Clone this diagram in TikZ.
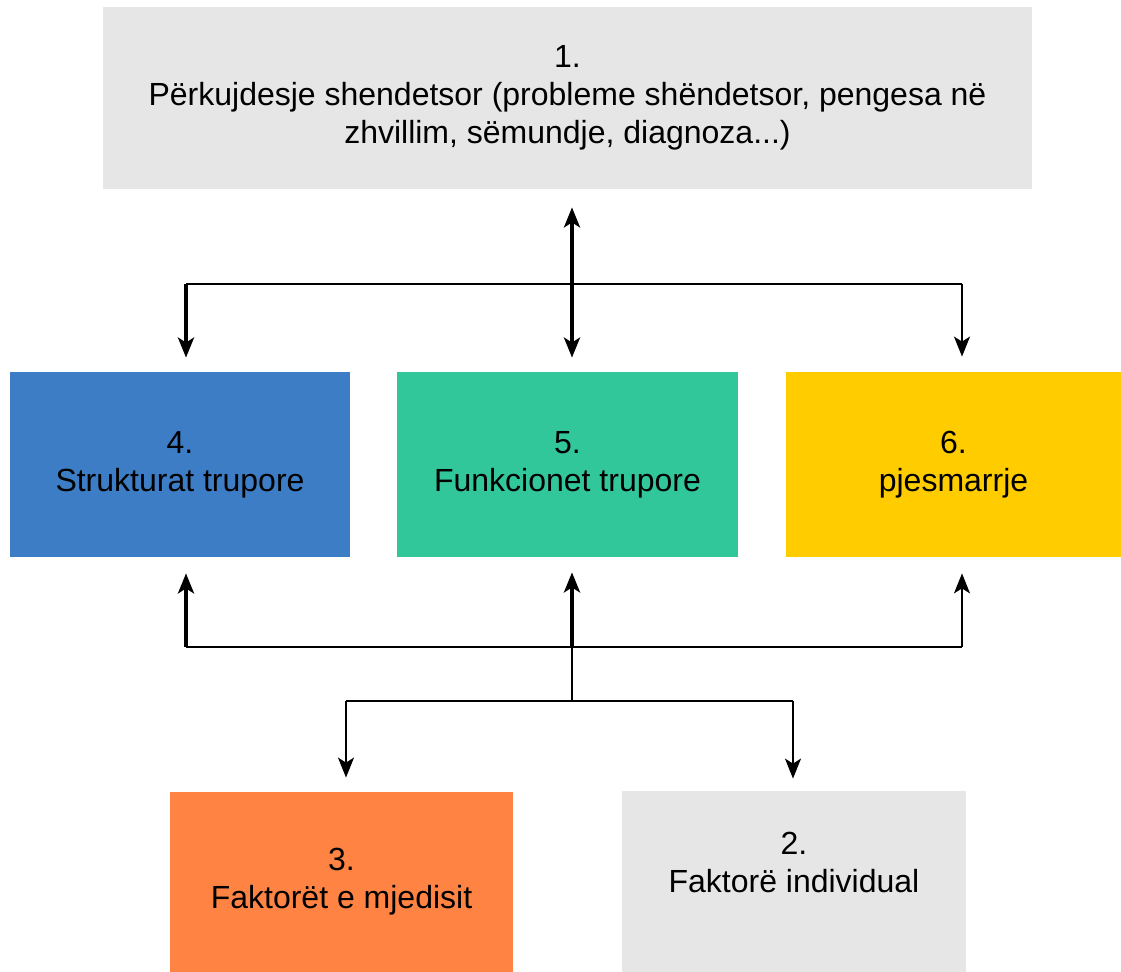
\documentclass[tikz,border=0pt]{standalone}
\usepackage{fontspec}
\setmainfont{Liberation Sans}
\usetikzlibrary{arrows.meta}
\definecolor{boxgray}{HTML}{E6E6E6}
\definecolor{boxblue}{HTML}{3D7DC5}
\definecolor{boxgreen}{HTML}{32C79A}
\definecolor{boxyellow}{HTML}{FFCC00}
\definecolor{boxorange}{HTML}{FF8443}
\tikzset{box/.style={rectangle,inner sep=0pt,align=center,font=\fontsize{16}{19}\selectfont},
  thinline/.style={line width=1pt},
  thinarr/.style={line width=1pt,-{Stealth[length=10pt,width=8pt,inset=2.5pt]}},
  thickarr/.style={line width=2.2pt,-{Stealth[length=10pt,width=8pt,inset=2.5pt]}}}

\begin{document}
\begin{tikzpicture}[x=0.5pt,y=-0.5pt]
\useasboundingbox (0,0) rectangle (1121,972);
\node[box,fill=boxgray,minimum width=464.5pt,minimum height=91pt] (n1) at (567.5,98) {1.\\Përkujdesje shendetsor (probleme shëndetsor, pengesa në\\zhvillim, sëmundje, diagnoza...)};
\node[box,fill=boxblue,minimum width=170pt,minimum height=92.5pt] (n4) at (180,464.5) {4.\\Strukturat trupore};
\node[box,fill=boxgreen,minimum width=170.5pt,minimum height=92.5pt] (n5) at (567.5,464.5) {5.\\Funkcionet trupore};
\node[box,fill=boxyellow,minimum width=167.5pt,minimum height=92.5pt] (n6) at (953.5,464.5) {6.\\pjesmarrje};
\node[box,fill=boxorange,minimum width=171.5pt,minimum height=90pt] (n3) at (341.5,882) {3.\\Faktorët e mjedisit};
\node[box,fill=boxgray,minimum width=172pt,minimum height=90.5pt] (n2) at (794,881.5) {2.\\Faktorë individual\\\mbox{}};
% top bus
\coordinate (t4) at (186,284); \coordinate (t5) at (572,284); \coordinate (t6) at (962,284);
\draw[thinline] (t4) -- (t6);
\draw[thickarr] (t4) -- (t4 |- n4.north) [shorten >=7pt];
\draw[thinarr] (t6) -- (t6 |- n6.north) [shorten >=7.5pt];
\draw[thickarr,{Stealth[length=10pt,width=8pt,inset=2.5pt]}-{Stealth[length=10pt,width=8pt,inset=2.5pt]},shorten <=9pt,shorten >=7pt] (n1.south -| t5) -- (n5.north -| t5);
% bottom bus
\coordinate (b4) at (186,647); \coordinate (b5) at (572,647); \coordinate (b6) at (962,647);
\coordinate (m3) at (346,701); \coordinate (m5) at (572,701); \coordinate (m2) at (793,701);
\draw[thinline] (b4) -- (b6);
\draw[thickarr,shorten >=8pt] (b4) -- (b4 |- n4.south);
\draw[thickarr,shorten >=7.5pt] (b5) -- (b5 |- n5.south);
\draw[thinarr,shorten >=8pt] (b6) -- (b6 |- n6.south);
\draw[thinline] (b5) -- (m5);
\draw[thinline] (m3) -- (m2);
\draw[thinarr,shorten >=7pt] (m3) -- (m3 |- n3.north);
\draw[thinarr,shorten >=6pt] (m2) -- (m2 |- n2.north);
\end{tikzpicture}
\end{document}
